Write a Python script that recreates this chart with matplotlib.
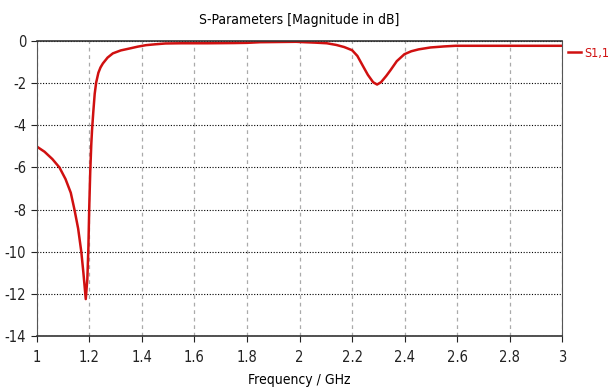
import matplotlib
matplotlib.use("Agg")
import matplotlib.pyplot as plt
from matplotlib import font_manager as fm

# S11
freq_ghz = [1.00, 1.03, 1.06, 1.087, 1.11, 1.13, 1.144, 1.158, 1.17, 1.178, 1.187,
            1.193, 1.197, 1.200, 1.204, 1.208, 1.211, 1.216, 1.221, 1.2265, 1.235,
            1.243, 1.252, 1.27, 1.29, 1.32, 1.353, 1.385, 1.416, 1.45, 1.49, 1.55,
            1.65, 1.75, 1.80, 1.85, 1.987, 2.02, 2.06, 2.104, 2.14, 2.17, 2.20,
            2.22, 2.243, 2.26, 2.28, 2.295, 2.31, 2.33, 2.346, 2.37, 2.399, 2.425,
            2.453, 2.498, 2.55, 2.593, 2.7, 2.8, 2.9, 3.00]
s11_db = [-5.0, -5.25, -5.6, -6.0, -6.55, -7.2, -8.0, -8.9, -10.0, -11.0, -12.25,
          -11.3, -9.8, -8.0, -6.2, -4.9, -4.2, -3.3, -2.5, -1.97, -1.5,
          -1.25, -1.06, -0.78, -0.58, -0.44, -0.35, -0.26, -0.19, -0.15, -0.11, -0.1,
          -0.1, -0.09, -0.08, -0.05, -0.03, -0.05, -0.07, -0.1, -0.18, -0.28, -0.43,
          -0.7, -1.22, -1.6, -1.95, -2.06, -1.95, -1.65, -1.38, -0.95, -0.62, -0.48,
          -0.39, -0.3, -0.25, -0.22, -0.22, -0.22, -0.22, -0.22]

x_ticks = [1, 1.2, 1.4, 1.6, 1.8, 2, 2.2, 2.4, 2.6, 2.8, 3]
x_tick_labels = ["1", "1.2", "1.4", "1.6", "1.8", "2", "2.2", "2.4", "2.6", "2.8", "3"]
y_ticks = [0, -2, -4, -6, -8, -10, -12, -14]

# narrow font if available
names = {f.name for f in fm.fontManager.ttflist}
if "Liberation Sans Narrow" in names:
    plt.rcParams['font.family'] = ['Liberation Sans Narrow', 'DejaVu Sans']
else:
    plt.rcParams['font.family'] = ['DejaVu Sans']
    plt.rcParams['font.stretch'] = 'condensed'
plt.rcParams['axes.unicode_minus'] = False

fig = plt.figure(figsize=(6.1, 3.92), dpi=100)
ax = fig.add_axes([0.060, 0.143, 0.862, 0.752])

ax.plot(freq_ghz, s11_db, color='#d01010', linewidth=1.8, label='S1,1')

ax.set_xlim(1, 3)
ax.set_ylim(-14, 0)
ax.set_xticks(x_ticks)
ax.set_xticklabels(x_tick_labels)
ax.set_yticks(y_ticks)
ax.tick_params(labelsize=10.5, length=4, width=0.8, colors='#222222')
ax.tick_params(axis='x', pad=6)

# vertical grid gray dashed, horizontal black dotted
ax.xaxis.grid(True, color='#aaaaaa', linestyle=(0, (3, 3)), linewidth=0.9)
ax.yaxis.grid(True, color='#000000', linestyle=(0, (1, 1.5)), linewidth=0.8)

for side in ['top', 'bottom']:
    ax.spines[side].set_linewidth(1.2)
    ax.spines[side].set_color('#333333')
for side in ['left', 'right']:
    ax.spines[side].set_linewidth(0.8)
    ax.spines[side].set_color('#555555')

ax.set_title('S-Parameters [Magnitude in dB]', fontsize=10, pad=12)
ax.set_xlabel('Frequency / GHz', fontsize=10, labelpad=6)

ax.legend(loc='upper left', bbox_to_anchor=(1.0, 1.0), frameon=False,
          fontsize=9, handlelength=1.0, handletextpad=0.3, borderaxespad=0.15,
          borderpad=0.3, labelcolor='#d01010')

fig.savefig('out.png', dpi=100)
